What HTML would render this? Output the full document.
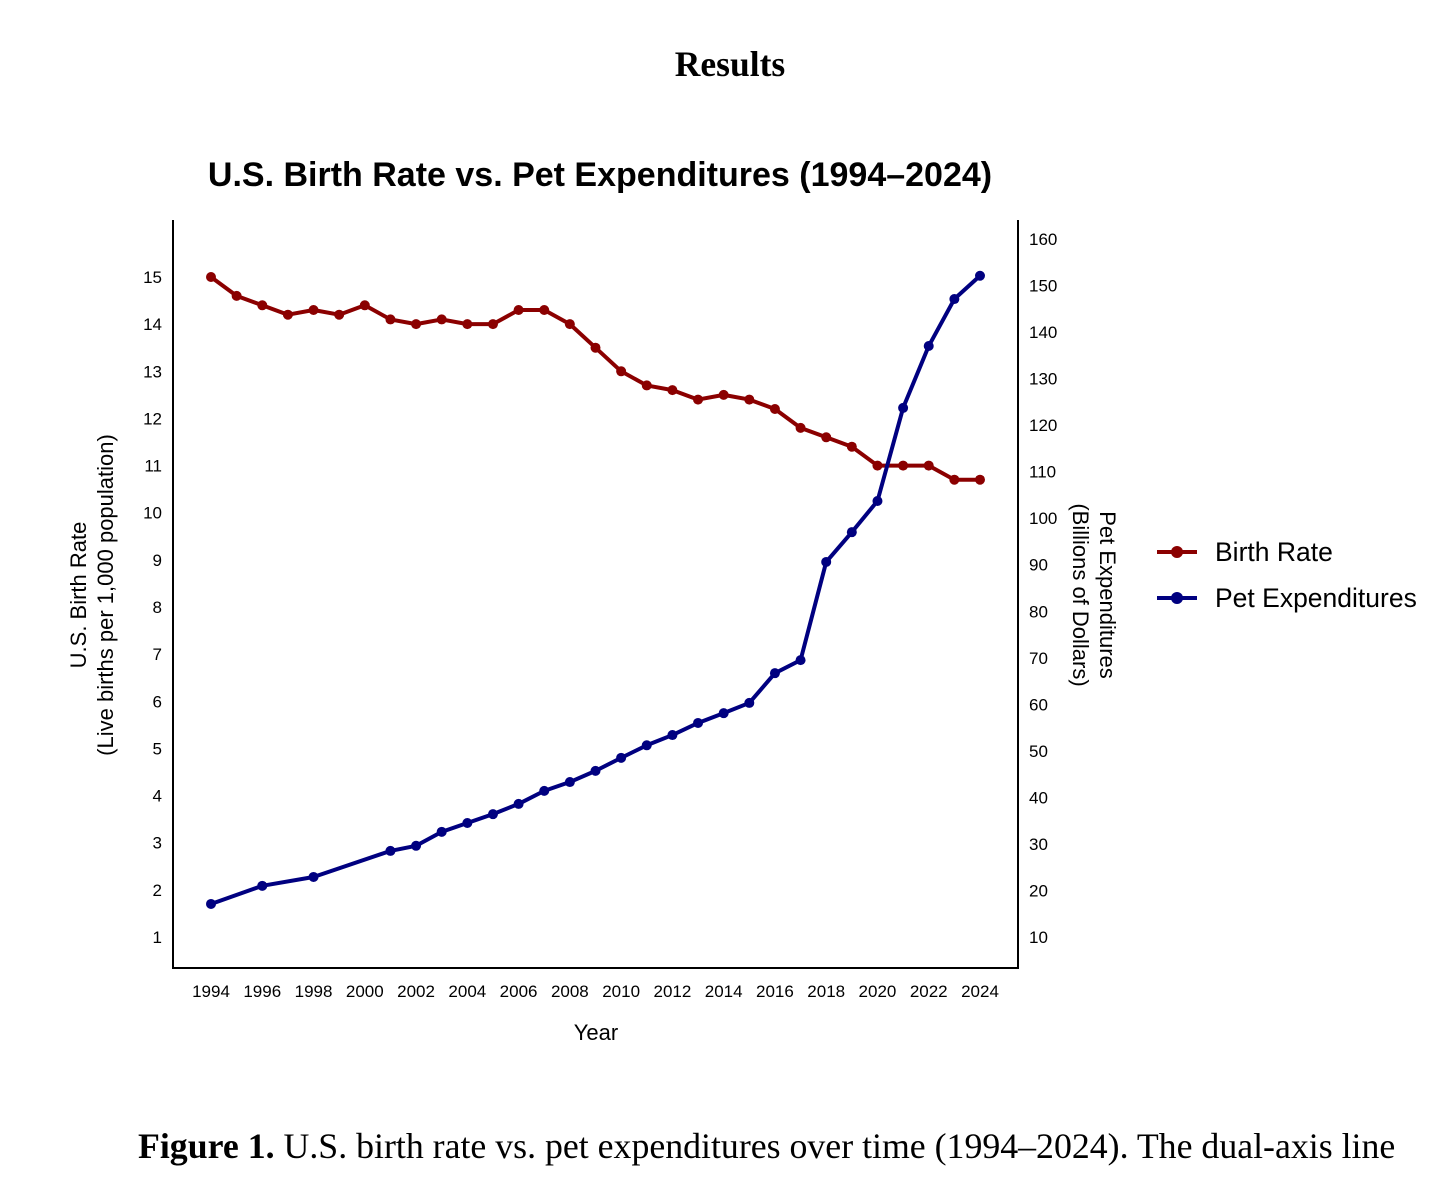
<!DOCTYPE html>
<html><head><meta charset="utf-8"><style>
body{margin:0;background:#fff;width:1456px;height:1187px;overflow:hidden;font-family:"Liberation Sans",sans-serif}
</style></head><body>
<svg id="chart" width="1456" height="1187" xmlns="http://www.w3.org/2000/svg">
<text x="730" y="76" text-anchor="middle" font-family="Liberation Serif" font-weight="bold" font-size="35.5">Results</text>
<text x="600" y="186" text-anchor="middle" font-weight="bold" font-size="34">U.S. Birth Rate vs. Pet Expenditures (1994–2024)</text>
<g stroke="#000" stroke-width="2" fill="none">
<line x1="173" y1="220" x2="173" y2="969"/><line x1="172" y1="968" x2="1019" y2="968"/><line x1="1018" y1="220" x2="1018" y2="969"/>
</g>
<g id="ticks"></g>
<text transform="translate(86,595) rotate(-90)" text-anchor="middle" font-size="22">U.S. Birth Rate</text>
<text transform="translate(113,595) rotate(-90)" text-anchor="middle" font-size="22">(Live births per 1,000 population)</text>
<text transform="translate(1100,595) rotate(90)" text-anchor="middle" font-size="22">Pet Expenditures</text>
<text transform="translate(1073,595) rotate(90)" text-anchor="middle" font-size="22">(Billions of Dollars)</text>
<text x="596" y="1040" text-anchor="middle" font-size="22">Year</text>
<g id="series"></g>
<g>
<g><line x1="1157" y1="552" x2="1197" y2="552" stroke="#8b0000" stroke-width="4"/><circle cx="1177" cy="552" r="6" fill="#8b0000"/><text x="1215" y="561" font-size="26.5">Birth Rate</text></g>
<g><line x1="1157" y1="598" x2="1197" y2="598" stroke="#000080" stroke-width="4"/><circle cx="1177" cy="598" r="6" fill="#000080"/><text x="1215" y="607" font-size="26.5">Pet Expenditures</text></g>
</g>
<text x="138" y="1158" font-family="Liberation Serif" font-size="35.8"><tspan font-weight="bold">Figure 1.</tspan> U.S. birth rate vs. pet expenditures over time (1994–2024). The dual-axis line</text>
</svg>
<script>
const years=[1994,1995,1996,1997,1998,1999,2000,2001,2002,2003,2004,2005,2006,2007,2008,2009,2010,2011,2012,2013,2014,2015,2016,2017,2018,2019,2020,2021,2022,2023,2024];
const birthRate=[15.0,14.6,14.4,14.2,14.3,14.2,14.4,14.1,14.0,14.1,14.0,14.0,14.3,14.3,14.0,13.5,13.0,12.7,12.6,12.4,12.5,12.4,12.2,11.8,11.6,11.4,11.0,11.0,11.0,10.7,10.7];
const petYears=[1994,1996,1998,2001,2002,2003,2004,2005,2006,2007,2008,2009,2010,2011,2012,2013,2014,2015,2016,2017,2018,2019,2020,2021,2022,2023,2024];
const petExp=[17.1,21.0,22.9,28.5,29.6,32.6,34.5,36.4,38.6,41.4,43.3,45.7,48.5,51.2,53.4,56.0,58.1,60.3,66.7,69.5,90.6,97.0,103.7,123.7,137.0,147.1,152.1];
const leftTicks=[1,2,3,4,5,6,7,8,9,10,11,12,13,14,15];
const rightTicks=[10,20,30,40,50,60,70,80,90,100,110,120,130,140,150,160];
const xTicks=[1994,1996,1998,2000,2002,2004,2006,2008,2010,2012,2014,2016,2018,2020,2022,2024];
const NS="http://www.w3.org/2000/svg";
const x=v=>211+(v-1994)*(980-211)/30;
const yL=v=>937-(v-1)*(937-277)/14;
const yR=v=>937-(v-10)*(937-239)/150;
function mk(t,a,p){const e=document.createElementNS(NS,t);for(const k in a)e.setAttribute(k,a[k]);p.appendChild(e);return e;}
const tk=document.getElementById('ticks');
leftTicks.forEach(v=>{const t=mk('text',{x:162,y:yL(v)+6,'text-anchor':'end','font-size':17},tk);t.textContent=v;

});
rightTicks.forEach(v=>{const t=mk('text',{x:1029,y:yR(v)+6,'font-size':17},tk);t.textContent=v;

});
xTicks.forEach(v=>{const t=mk('text',{x:x(v),y:997,'text-anchor':'middle','font-size':17},tk);t.textContent=v;

});
const sg=document.getElementById('series');
function series(xs,ys,yf,col,name){
const p=mk('polyline',{points:xs.map((v,i)=>x(v)+','+yf(ys[i])).join(' '),fill:'none',stroke:col,'stroke-width':4,'stroke-linejoin':'round'},sg);


xs.forEach((v,i)=>{const c=mk('circle',{cx:x(v),cy:yf(ys[i]),r:5,fill:col},sg);

});}
series(years,birthRate,yL,'#8b0000','birth-rate');
series(petYears,petExp,yR,'#000080','pet-expenditures');
</script>
</body></html>
